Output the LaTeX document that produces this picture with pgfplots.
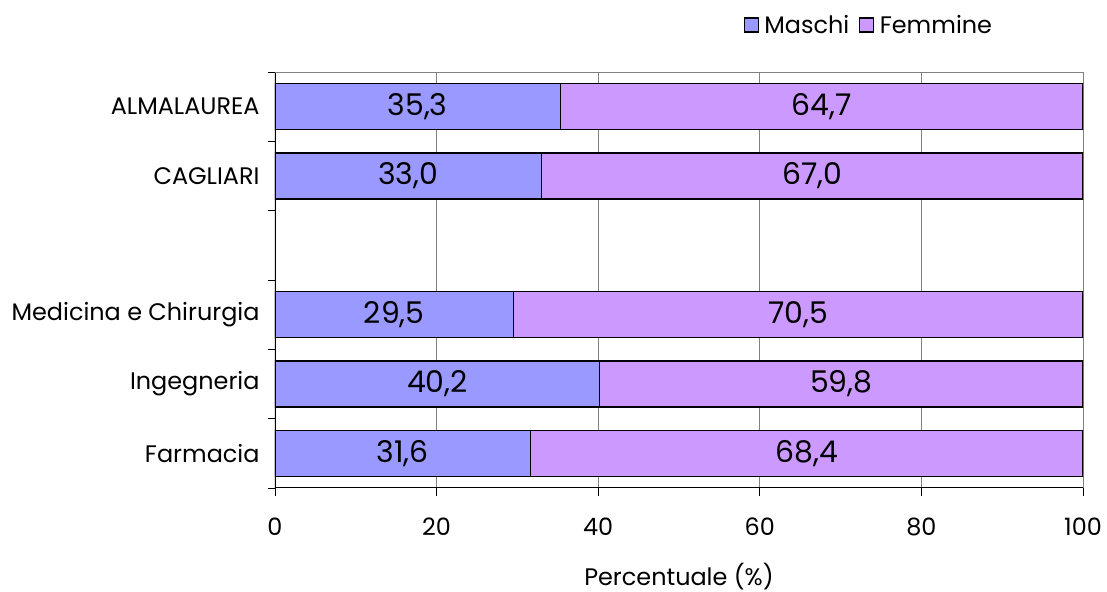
\documentclass[border=0pt]{standalone}
\usepackage{pgfplots}
\pgfplotsset{compat=1.18}
\usepackage{fontspec}
\setmainfont{Poppins}
\definecolor{masc}{HTML}{9999FF}
\definecolor{femm}{HTML}{CC99FF}
\definecolor{gridc}{HTML}{808080}
\begin{document}
\begin{tikzpicture}
\pgfplotsset{
  common/.style={
    scale only axis, width=808bp, height=416bp,
    xmin=0, xmax=100, ymin=-0.5, ymax=5.5,
  }
}
\begin{axis}[common, name=ax,
  xbar stacked, bar width=0.66,
  axis line style={draw=none},
  xtick={0,20,40,60,80,100},
  xmajorgrids, grid style={gridc, line width=0.9bp},
  ytick={0,1,2,4,5},
  yticklabels={Farmacia,Ingegneria,Medicina e Chirurgia,CAGLIARI,ALMALAUREA},
  major y tick style={draw=none},
  minor ytick={-0.5,0.5,1.5,2.5,3.5,4.5,5.5},
  tick align=outside,
  x tick style={black, line width=0.9bp}, xtick pos=bottom,
  major tick length=8bp, minor tick length=7bp,
  minor y tick style={black, line width=0.9bp},
  ytick pos=left,
  tick label style={font=\fontsize{24}{27}\selectfont, /pgf/number format/assume math mode=true},
  yticklabel style={xshift=-4bp},
  xticklabel style={yshift=-18bp},
  xlabel={Percentuale (\%)}, xlabel style={font=\fontsize{24}{27}\selectfont, yshift=-21bp},
  legend style={at={(0.735,1.113)}, anchor=center, draw=none, font=\fontsize{24}{27}\selectfont, legend columns=2,
    /tikz/every even column/.append style={column sep=8bp}},
  legend image code/.code={\draw[#1, draw=black, line width=1.2bp] (0bp,-7bp) rectangle (14bp,7bp); \path[draw=none, fill=none] (0bp,0bp) rectangle (18bp,0.1bp);},
  every axis plot/.append style={draw=black, line width=1.3bp},
]
\addplot[fill=masc] coordinates {(31.6,0) (40.2,1) (29.5,2) (0,3) (33.0,4) (35.3,5)};
\addplot[fill=femm] coordinates {(68.4,0) (59.8,1) (70.5,2) (0,3) (67.0,4) (64.7,5)};
\legend{Maschi,Femmine}
\draw[gridc, line width=0.9bp] (rel axis cs:0,1) -- (rel axis cs:1,1) -- (rel axis cs:1,0);
\draw[black, line width=1.2bp] (rel axis cs:0,0) -- (rel axis cs:1,0);
\draw[black, line width=1.2bp] (rel axis cs:0,0) -- (rel axis cs:0,1);
\end{axis}
\begin{axis}[common, hide axis]
\addplot[only marks, mark=none, nodes near coords, point meta=explicit symbolic,
  nodes near coords style={anchor=center, font=\fontsize{30}{32}\selectfont}]
  coordinates {
  (15.8,0)[31,6] (20.1,1)[40,2] (14.75,2)[29,5] (16.5,4)[33,0] (17.65,5)[35,3]
  (65.8,0)[68,4] (70.1,1)[59,8] (64.75,2)[70,5] (66.5,4)[67,0] (67.65,5)[64,7]
  };
\end{axis}
\pgfresetboundingbox
\path[use as bounding box] ([xshift=-275bp,yshift=-104bp]ax.south west) rectangle ([xshift=24bp,yshift=72bp]ax.north east);
\end{tikzpicture}
\end{document}
